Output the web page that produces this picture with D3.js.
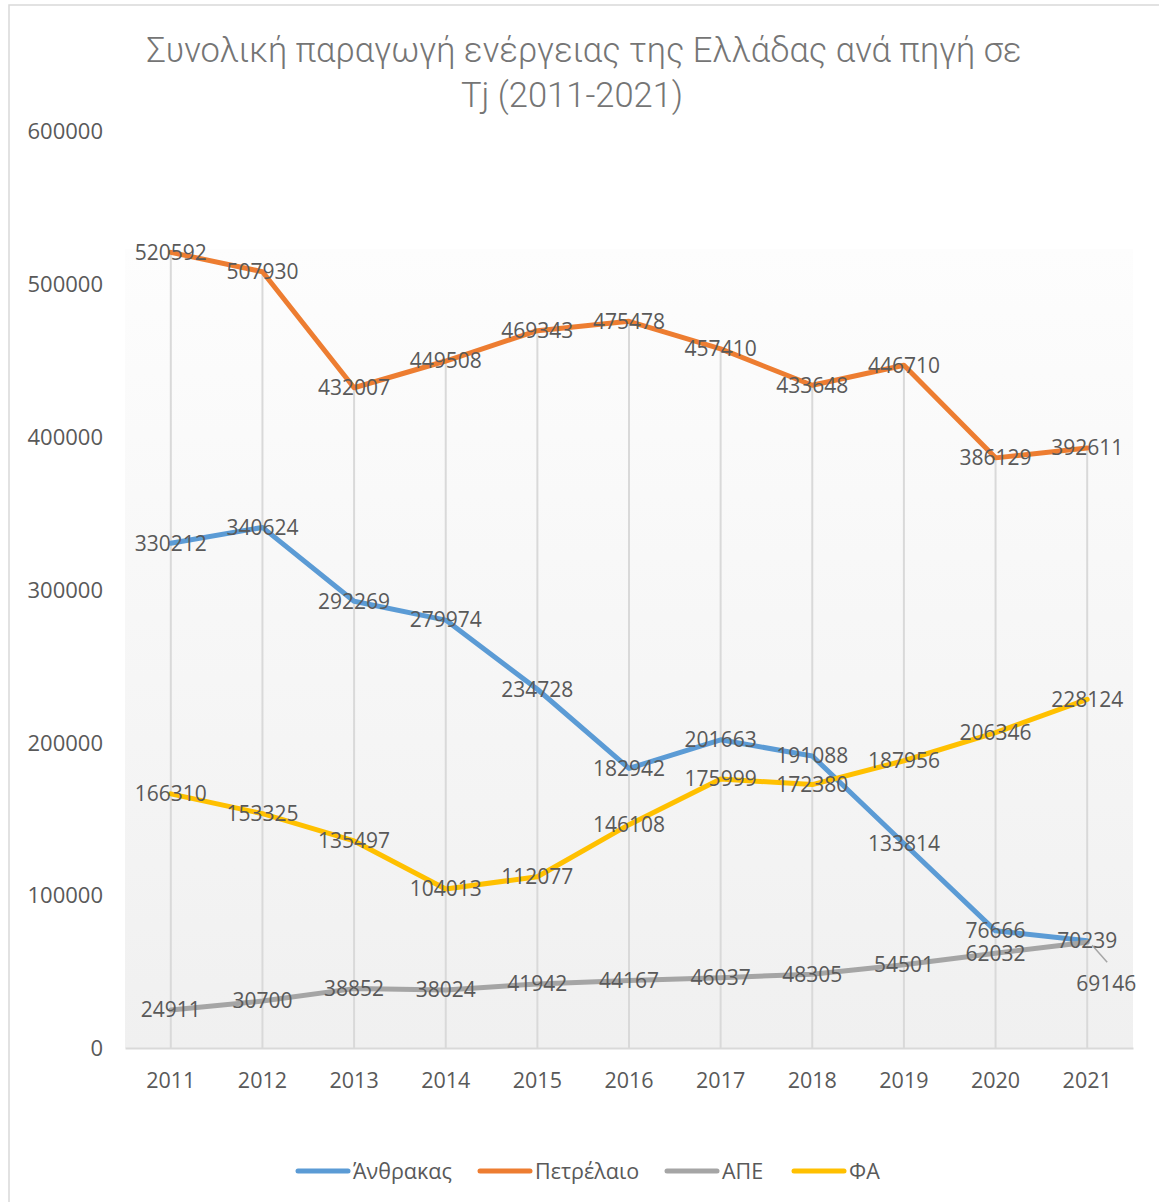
<!DOCTYPE html>
<html><head><meta charset="utf-8">
<script src="https://cdn.jsdelivr.net/npm/d3@7"></script>
<style>body{margin:0;background:#fff}svg{display:block}</style>
</head><body>
<script>
const years = ["2011","2012","2013","2014","2015","2016","2017","2018","2019","2020","2021"];
const seriesNames = ["Άνθρακας","Πετρέλαιο","ΑΠΕ","ΦΑ"];
const seriesColors = ["#5B9BD5","#ED7D31","#A5A5A5","#FFC000"];
const coal = [330212,340624,292269,279974,234728,182942,201663,191088,133814,76666,70239];
const oil = [520592,507930,432007,449508,469343,475478,457410,433648,446710,386129,392611];
const res = [24911,30700,38852,38024,41942,44167,46037,48305,54501,62032,69146];
const gas = [166310,153325,135497,104013,112077,146108,175999,172380,187956,206346,228124];
const yTicks = [0,100000,200000,300000,400000,500000,600000];
const titleLines = ["Συνολική παραγωγή ενέργειας της Ελλάδας ανά πηγή σε","Tj (2011-2021)"];

(function(){
const W=1159,H=1202;
const svg=d3.select("body").append("svg").attr("width",W).attr("height",H);
const font="'Open Sans', 'DejaVu Sans', sans-serif";
const txt="#595959";

svg.append("rect").attr("x",9).attr("y",5).attr("width",W+20).attr("height",H+20)
  .attr("fill","#fff").attr("stroke","#d9d9d9").attr("stroke-width",1.5);

const pL=125,pR=1133,pT=131,pB=1048;
const x=d3.scaleBand().domain(years).range([pL,pR]);
const y=d3.scaleLinear().domain([0,600000]).range([pB,pT]);

const defs=svg.append("defs");
const g=defs.append("linearGradient").attr("id","bg").attr("x1",0).attr("y1",0).attr("x2",0).attr("y2",1);
g.append("stop").attr("offset","0%").attr("stop-color","#fdfdfd");
g.append("stop").attr("offset","100%").attr("stop-color","#f0f0f0");
svg.append("rect").attr("x",pL).attr("y",249).attr("width",pR-pL).attr("height",pB-249).attr("fill","url(#bg)");

// title
const tf="Roboto, 'Noto Sans', sans-serif";
svg.append("text").attr("x",584).attr("y",62).attr("text-anchor","middle").attr("font-weight",300)
  .attr("font-family",tf).attr("font-size",34.5).attr("fill","#757575").text(titleLines[0]);
svg.append("text").attr("x",572).attr("y",107).attr("text-anchor","middle").attr("font-weight",300)
  .attr("font-family",tf).attr("font-size",34.5).attr("fill","#757575").text(titleLines[1]);

const data=[coal,oil,res,gas];

// drop lines
const maxes=years.map((yr,i)=>d3.max(data,s=>s[i]));
svg.append("g").selectAll("line").data(years).join("line")
  .attr("x1",d=>x(d)+x.bandwidth()/2).attr("x2",d=>x(d)+x.bandwidth()/2)
  .attr("y1",(d,i)=>y(maxes[i])).attr("y2",pB)
  .attr("stroke","#d9d9d9").attr("stroke-width",2);

// axes
const xAxis=svg.append("g").attr("transform",`translate(0,${pB})`).call(d3.axisBottom(x).tickSize(0).tickPadding(0));
xAxis.select(".domain").attr("stroke","#d9d9d9").attr("stroke-width",2);
xAxis.selectAll("text").attr("font-family",font).attr("font-size",21.5).attr("fill",txt).attr("dy",0).attr("y",40);

const yAxis=svg.append("g").attr("transform",`translate(103,0)`).call(d3.axisLeft(y).tickValues(yTicks).tickSize(0).tickPadding(0).tickFormat(d3.format("d")));
yAxis.select(".domain").remove();
yAxis.selectAll("text").attr("font-family",font).attr("font-size",22).attr("fill",txt).attr("dy","0.35em");

// lines
const line=d3.line().x((d,i)=>x(years[i])+x.bandwidth()/2).y(d=>y(d));
svg.append("g").selectAll("path").data(data).join("path")
  .attr("d",line).attr("fill","none").attr("stroke",(d,i)=>seriesColors[i])
  .attr("stroke-width",5).attr("stroke-linejoin","round").attr("stroke-linecap","round");

// leader line for ΑΠΕ 2021
const cx21=x("2021")+x.bandwidth()/2;
svg.append("line").attr("x1",cx21+5).attr("y1",y(res[10])+3).attr("x2",cx21+20).attr("y2",y(res[10])+20)
  .attr("stroke","#a6a6a6").attr("stroke-width",1.5);

// labels
const lg=svg.append("g").attr("font-family",font).attr("font-size",21).attr("fill",txt).attr("text-anchor","middle");
data.forEach((s,si)=>{
  s.forEach((v,i)=>{
    let px=x(years[i])+x.bandwidth()/2, py=y(v);
    if(si===2&&i===10){px+=19;py+=41;}
    lg.append("text").attr("x",px).attr("y",py).attr("dy","0.35em").text(v);
  });
});

// legend
const legX=[296,478,665,792];
const leg=svg.append("g");
seriesNames.forEach((n,i)=>{
  leg.append("line").attr("x1",legX[i]+2).attr("x2",legX[i]+52).attr("y1",1171).attr("y2",1171)
    .attr("stroke",seriesColors[i]).attr("stroke-width",5).attr("stroke-linecap","round");
  leg.append("text").attr("x",legX[i]+57).attr("y",1171).attr("dy","0.35em")
    .attr("font-family",font).attr("font-size",21.5).attr("fill",txt).text(n);
});
})();
</script>
</body></html>
